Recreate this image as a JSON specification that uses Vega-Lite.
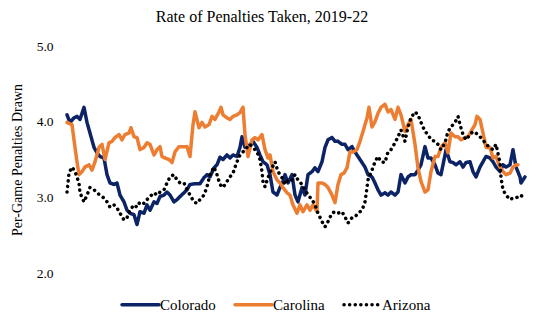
{
  "$schema": "https://vega.github.io/schema/vega-lite/v6.json",
  "autosize": {"type": "none"},
  "width": 460,
  "height": 227,
  "padding": {"left": 66, "top": 46, "right": 14, "bottom": 51},
  "background": "white",
  "config": {
    "view": {"stroke": null},
    "font": "Liberation Serif",
    "axis": {"labelFont": "Liberation Serif", "titleFont": "Liberation Serif"},
    "legend": {"labelFont": "Liberation Serif"},
    "title": {"font": "Liberation Serif"}
  },
  "title": {
    "text": "Rate of Penalties Taken, 2019-22",
    "font": "Liberation Serif",
    "fontSize": 16,
    "fontWeight": "normal",
    "color": "#000000",
    "anchor": "middle",
    "dx": -34,
    "offset": 14
  },
  "data": {
    "values": [
      {"team":"Colorado","game":1,"rate":4.09},{"team":"Colorado","game":4,"rate":3.99},{"team":"Colorado","game":8,"rate":4.05},{"team":"Colorado","game":11,"rate":4.07},{"team":"Colorado","game":14,"rate":4.03},{"team":"Colorado","game":18,"rate":4.19},{"team":"Colorado","game":21,"rate":3.99},{"team":"Colorado","game":24,"rate":3.85},{"team":"Colorado","game":28,"rate":3.66},{"team":"Colorado","game":31,"rate":3.59},{"team":"Colorado","game":34,"rate":3.54},{"team":"Colorado","game":38,"rate":3.52},{"team":"Colorado","game":41,"rate":3.30},{"team":"Colorado","game":44,"rate":3.19},{"team":"Colorado","game":48,"rate":3.17},{"team":"Colorado","game":51,"rate":3.19},{"team":"Colorado","game":54,"rate":3.03},{"team":"Colorado","game":58,"rate":2.94},{"team":"Colorado","game":61,"rate":2.83},{"team":"Colorado","game":64,"rate":2.79},{"team":"Colorado","game":68,"rate":2.77},{"team":"Colorado","game":71,"rate":2.64},{"team":"Colorado","game":74,"rate":2.81},{"team":"Colorado","game":78,"rate":2.79},{"team":"Colorado","game":81,"rate":2.90},{"team":"Colorado","game":84,"rate":2.83},{"team":"Colorado","game":88,"rate":2.94},{"team":"Colorado","game":91,"rate":2.92},{"team":"Colorado","game":94,"rate":3.01},{"team":"Colorado","game":98,"rate":3.03},{"team":"Colorado","game":101,"rate":3.07},{"team":"Colorado","game":104,"rate":3.03},{"team":"Colorado","game":108,"rate":2.94},{"team":"Colorado","game":111,"rate":2.97},{"team":"Colorado","game":114,"rate":3.01},{"team":"Colorado","game":118,"rate":3.06},{"team":"Colorado","game":121,"rate":3.10},{"team":"Colorado","game":124,"rate":3.17},{"team":"Colorado","game":129,"rate":3.18},{"team":"Colorado","game":134,"rate":3.18},{"team":"Colorado","game":138,"rate":3.26},{"team":"Colorado","game":141,"rate":3.30},{"team":"Colorado","game":144,"rate":3.27},{"team":"Colorado","game":148,"rate":3.39},{"team":"Colorado","game":151,"rate":3.43},{"team":"Colorado","game":154,"rate":3.53},{"team":"Colorado","game":157,"rate":3.50},{"team":"Colorado","game":161,"rate":3.56},{"team":"Colorado","game":164,"rate":3.52},{"team":"Colorado","game":167,"rate":3.56},{"team":"Colorado","game":171,"rate":3.54},{"team":"Colorado","game":174,"rate":3.66},{"team":"Colorado","game":176,"rate":3.80},{"team":"Colorado","game":179,"rate":3.66},{"team":"Colorado","game":182,"rate":3.67},{"team":"Colorado","game":187,"rate":3.74},{"team":"Colorado","game":191,"rate":3.66},{"team":"Colorado","game":194,"rate":3.56},{"team":"Colorado","game":197,"rate":3.47},{"team":"Colorado","game":201,"rate":3.43},{"team":"Colorado","game":204,"rate":3.30},{"team":"Colorado","game":207,"rate":3.07},{"team":"Colorado","game":211,"rate":3.03},{"team":"Colorado","game":214,"rate":3.13},{"team":"Colorado","game":217,"rate":3.21},{"team":"Colorado","game":219,"rate":3.30},{"team":"Colorado","game":222,"rate":3.19},{"team":"Colorado","game":226,"rate":3.30},{"team":"Colorado","game":229,"rate":3.03},{"team":"Colorado","game":232,"rate":2.94},{"team":"Colorado","game":236,"rate":3.13},{"team":"Colorado","game":239,"rate":3.03},{"team":"Colorado","game":242,"rate":3.30},{"team":"Colorado","game":246,"rate":3.34},{"team":"Colorado","game":249,"rate":3.39},{"team":"Colorado","game":252,"rate":3.34},{"team":"Colorado","game":256,"rate":3.47},{"team":"Colorado","game":259,"rate":3.66},{"team":"Colorado","game":262,"rate":3.76},{"team":"Colorado","game":266,"rate":3.79},{"team":"Colorado","game":269,"rate":3.74},{"team":"Colorado","game":272,"rate":3.74},{"team":"Colorado","game":276,"rate":3.70},{"team":"Colorado","game":279,"rate":3.70},{"team":"Colorado","game":282,"rate":3.63},{"team":"Colorado","game":286,"rate":3.67},{"team":"Colorado","game":289,"rate":3.60},{"team":"Colorado","game":292,"rate":3.54},{"team":"Colorado","game":296,"rate":3.46},{"team":"Colorado","game":299,"rate":3.40},{"team":"Colorado","game":302,"rate":3.30},{"team":"Colorado","game":306,"rate":3.27},{"team":"Colorado","game":309,"rate":3.19},{"team":"Colorado","game":312,"rate":3.10},{"team":"Colorado","game":315,"rate":3.03},{"team":"Colorado","game":319,"rate":3.06},{"team":"Colorado","game":322,"rate":3.03},{"team":"Colorado","game":325,"rate":3.07},{"team":"Colorado","game":329,"rate":3.03},{"team":"Colorado","game":332,"rate":3.07},{"team":"Colorado","game":335,"rate":3.30},{"team":"Colorado","game":339,"rate":3.19},{"team":"Colorado","game":342,"rate":3.27},{"team":"Colorado","game":345,"rate":3.30},{"team":"Colorado","game":349,"rate":3.30},{"team":"Colorado","game":352,"rate":3.36},{"team":"Colorado","game":355,"rate":3.43},{"team":"Colorado","game":359,"rate":3.67},{"team":"Colorado","game":362,"rate":3.52},{"team":"Colorado","game":365,"rate":3.52},{"team":"Colorado","game":369,"rate":3.43},{"team":"Colorado","game":372,"rate":3.32},{"team":"Colorado","game":375,"rate":3.30},{"team":"Colorado","game":379,"rate":3.56},{"team":"Colorado","game":380,"rate":3.63},{"team":"Colorado","game":384,"rate":3.47},{"team":"Colorado","game":387,"rate":3.46},{"team":"Colorado","game":390,"rate":3.43},{"team":"Colorado","game":394,"rate":3.47},{"team":"Colorado","game":397,"rate":3.40},{"team":"Colorado","game":400,"rate":3.46},{"team":"Colorado","game":404,"rate":3.47},{"team":"Colorado","game":407,"rate":3.34},{"team":"Colorado","game":410,"rate":3.27},{"team":"Colorado","game":414,"rate":3.40},{"team":"Colorado","game":417,"rate":3.47},{"team":"Colorado","game":420,"rate":3.54},{"team":"Colorado","game":424,"rate":3.52},{"team":"Colorado","game":427,"rate":3.47},{"team":"Colorado","game":430,"rate":3.40},{"team":"Colorado","game":434,"rate":3.34},{"team":"Colorado","game":437,"rate":3.43},{"team":"Colorado","game":440,"rate":3.40},{"team":"Colorado","game":444,"rate":3.43},{"team":"Colorado","game":447,"rate":3.63},{"team":"Colorado","game":450,"rate":3.40},{"team":"Colorado","game":454,"rate":3.27},{"team":"Colorado","game":455,"rate":3.19},{"team":"Colorado","game":459,"rate":3.27},

      {"team":"Carolina","game":1,"rate":3.99},{"team":"Carolina","game":6,"rate":3.96},{"team":"Carolina","game":9,"rate":3.66},{"team":"Carolina","game":11,"rate":3.47},{"team":"Carolina","game":13,"rate":3.30},{"team":"Carolina","game":16,"rate":3.34},{"team":"Carolina","game":19,"rate":3.40},{"team":"Carolina","game":23,"rate":3.43},{"team":"Carolina","game":26,"rate":3.36},{"team":"Carolina","game":29,"rate":3.47},{"team":"Carolina","game":33,"rate":3.66},{"team":"Carolina","game":36,"rate":3.70},{"team":"Carolina","game":39,"rate":3.50},{"team":"Carolina","game":43,"rate":3.72},{"team":"Carolina","game":46,"rate":3.74},{"team":"Carolina","game":49,"rate":3.79},{"team":"Carolina","game":53,"rate":3.83},{"team":"Carolina","game":56,"rate":3.76},{"team":"Carolina","game":59,"rate":3.83},{"team":"Carolina","game":63,"rate":3.85},{"team":"Carolina","game":65,"rate":3.92},{"team":"Carolina","game":68,"rate":3.80},{"team":"Carolina","game":71,"rate":3.79},{"team":"Carolina","game":74,"rate":3.63},{"team":"Carolina","game":78,"rate":3.66},{"team":"Carolina","game":81,"rate":3.72},{"team":"Carolina","game":84,"rate":3.70},{"team":"Carolina","game":88,"rate":3.56},{"team":"Carolina","game":91,"rate":3.63},{"team":"Carolina","game":94,"rate":3.67},{"team":"Carolina","game":96,"rate":3.54},{"team":"Carolina","game":99,"rate":3.52},{"team":"Carolina","game":103,"rate":3.50},{"team":"Carolina","game":106,"rate":3.46},{"team":"Carolina","game":109,"rate":3.60},{"team":"Carolina","game":113,"rate":3.67},{"team":"Carolina","game":118,"rate":3.67},{"team":"Carolina","game":121,"rate":3.67},{"team":"Carolina","game":124,"rate":3.54},{"team":"Carolina","game":127,"rate":3.96},{"team":"Carolina","game":129,"rate":4.13},{"team":"Carolina","game":133,"rate":3.92},{"team":"Carolina","game":136,"rate":3.99},{"team":"Carolina","game":139,"rate":3.93},{"team":"Carolina","game":143,"rate":3.96},{"team":"Carolina","game":146,"rate":4.07},{"team":"Carolina","game":149,"rate":4.03},{"team":"Carolina","game":153,"rate":4.13},{"team":"Carolina","game":155,"rate":4.19},{"team":"Carolina","game":157,"rate":4.09},{"team":"Carolina","game":161,"rate":4.05},{"team":"Carolina","game":164,"rate":4.03},{"team":"Carolina","game":167,"rate":4.07},{"team":"Carolina","game":171,"rate":4.09},{"team":"Carolina","game":174,"rate":4.12},{"team":"Carolina","game":177,"rate":4.19},{"team":"Carolina","game":179,"rate":3.83},{"team":"Carolina","game":182,"rate":3.54},{"team":"Carolina","game":186,"rate":3.76},{"team":"Carolina","game":189,"rate":3.79},{"team":"Carolina","game":192,"rate":3.76},{"team":"Carolina","game":196,"rate":3.83},{"team":"Carolina","game":199,"rate":3.63},{"team":"Carolina","game":202,"rate":3.52},{"team":"Carolina","game":204,"rate":3.56},{"team":"Carolina","game":207,"rate":3.34},{"team":"Carolina","game":211,"rate":3.23},{"team":"Carolina","game":214,"rate":3.19},{"team":"Carolina","game":217,"rate":3.13},{"team":"Carolina","game":221,"rate":3.06},{"team":"Carolina","game":224,"rate":3.03},{"team":"Carolina","game":227,"rate":2.90},{"team":"Carolina","game":231,"rate":2.79},{"team":"Carolina","game":234,"rate":2.90},{"team":"Carolina","game":237,"rate":2.81},{"team":"Carolina","game":241,"rate":2.90},{"team":"Carolina","game":244,"rate":2.83},{"team":"Carolina","game":247,"rate":2.90},{"team":"Carolina","game":251,"rate":2.81},{"team":"Carolina","game":252,"rate":3.19},{"team":"Carolina","game":256,"rate":3.19},{"team":"Carolina","game":259,"rate":3.17},{"team":"Carolina","game":262,"rate":3.13},{"team":"Carolina","game":266,"rate":3.03},{"team":"Carolina","game":269,"rate":2.93},{"team":"Carolina","game":272,"rate":3.17},{"team":"Carolina","game":275,"rate":3.30},{"team":"Carolina","game":278,"rate":3.32},{"team":"Carolina","game":281,"rate":3.39},{"team":"Carolina","game":284,"rate":3.60},{"team":"Carolina","game":287,"rate":3.60},{"team":"Carolina","game":291,"rate":3.63},{"team":"Carolina","game":294,"rate":3.74},{"team":"Carolina","game":297,"rate":3.87},{"team":"Carolina","game":301,"rate":4.05},{"team":"Carolina","game":303,"rate":4.19},{"team":"Carolina","game":306,"rate":3.93},{"team":"Carolina","game":309,"rate":4.00},{"team":"Carolina","game":312,"rate":4.11},{"team":"Carolina","game":315,"rate":4.19},{"team":"Carolina","game":319,"rate":4.23},{"team":"Carolina","game":322,"rate":4.13},{"team":"Carolina","game":325,"rate":4.16},{"team":"Carolina","game":329,"rate":4.03},{"team":"Carolina","game":332,"rate":4.19},{"team":"Carolina","game":335,"rate":4.09},{"team":"Carolina","game":339,"rate":3.87},{"team":"Carolina","game":342,"rate":3.96},{"team":"Carolina","game":345,"rate":4.03},{"team":"Carolina","game":349,"rate":3.70},{"team":"Carolina","game":352,"rate":3.39},{"team":"Carolina","game":355,"rate":3.21},{"team":"Carolina","game":359,"rate":3.07},{"team":"Carolina","game":362,"rate":3.10},{"team":"Carolina","game":365,"rate":3.34},{"team":"Carolina","game":369,"rate":3.54},{"team":"Carolina","game":372,"rate":3.54},{"team":"Carolina","game":375,"rate":3.66},{"team":"Carolina","game":379,"rate":3.72},{"team":"Carolina","game":382,"rate":3.59},{"team":"Carolina","game":385,"rate":3.85},{"team":"Carolina","game":389,"rate":3.80},{"team":"Carolina","game":392,"rate":3.80},{"team":"Carolina","game":395,"rate":3.76},{"team":"Carolina","game":399,"rate":3.79},{"team":"Carolina","game":402,"rate":3.80},{"team":"Carolina","game":405,"rate":3.87},{"team":"Carolina","game":409,"rate":3.96},{"team":"Carolina","game":411,"rate":4.07},{"team":"Carolina","game":414,"rate":4.03},{"team":"Carolina","game":417,"rate":3.85},{"team":"Carolina","game":420,"rate":3.66},{"team":"Carolina","game":424,"rate":3.66},{"team":"Carolina","game":427,"rate":3.52},{"team":"Carolina","game":430,"rate":3.54},{"team":"Carolina","game":434,"rate":3.40},{"team":"Carolina","game":437,"rate":3.34},{"team":"Carolina","game":440,"rate":3.30},{"team":"Carolina","game":444,"rate":3.32},{"team":"Carolina","game":447,"rate":3.40},{"team":"Carolina","game":450,"rate":3.43},{"team":"Carolina","game":452,"rate":3.43},

      {"team":"Arizona","game":1,"rate":3.07},{"team":"Arizona","game":2,"rate":3.19},{"team":"Arizona","game":3,"rate":3.32},{"team":"Arizona","game":6,"rate":3.40},{"team":"Arizona","game":9,"rate":3.34},{"team":"Arizona","game":13,"rate":3.19},{"team":"Arizona","game":14,"rate":3.06},{"team":"Arizona","game":18,"rate":2.94},{"team":"Arizona","game":21,"rate":3.03},{"team":"Arizona","game":24,"rate":3.13},{"team":"Arizona","game":28,"rate":3.10},{"team":"Arizona","game":31,"rate":3.06},{"team":"Arizona","game":34,"rate":3.03},{"team":"Arizona","game":38,"rate":2.99},{"team":"Arizona","game":41,"rate":2.94},{"team":"Arizona","game":44,"rate":2.87},{"team":"Arizona","game":48,"rate":2.90},{"team":"Arizona","game":51,"rate":2.86},{"team":"Arizona","game":54,"rate":2.79},{"team":"Arizona","game":58,"rate":2.70},{"team":"Arizona","game":61,"rate":2.73},{"team":"Arizona","game":64,"rate":2.83},{"team":"Arizona","game":68,"rate":2.90},{"team":"Arizona","game":71,"rate":2.87},{"team":"Arizona","game":74,"rate":2.94},{"team":"Arizona","game":78,"rate":2.92},{"team":"Arizona","game":81,"rate":2.97},{"team":"Arizona","game":84,"rate":3.01},{"team":"Arizona","game":88,"rate":3.06},{"team":"Arizona","game":91,"rate":3.03},{"team":"Arizona","game":94,"rate":3.07},{"team":"Arizona","game":98,"rate":3.10},{"team":"Arizona","game":101,"rate":3.19},{"team":"Arizona","game":104,"rate":3.27},{"team":"Arizona","game":108,"rate":3.30},{"team":"Arizona","game":111,"rate":3.23},{"team":"Arizona","game":114,"rate":3.19},{"team":"Arizona","game":118,"rate":3.19},{"team":"Arizona","game":121,"rate":3.10},{"team":"Arizona","game":124,"rate":3.03},{"team":"Arizona","game":128,"rate":2.94},{"team":"Arizona","game":131,"rate":2.92},{"team":"Arizona","game":134,"rate":2.97},{"team":"Arizona","game":138,"rate":3.03},{"team":"Arizona","game":141,"rate":3.14},{"team":"Arizona","game":144,"rate":3.30},{"team":"Arizona","game":148,"rate":3.40},{"team":"Arizona","game":151,"rate":3.30},{"team":"Arizona","game":154,"rate":3.17},{"team":"Arizona","game":157,"rate":3.13},{"team":"Arizona","game":161,"rate":3.21},{"team":"Arizona","game":164,"rate":3.27},{"team":"Arizona","game":167,"rate":3.32},{"team":"Arizona","game":169,"rate":3.40},{"team":"Arizona","game":171,"rate":3.47},{"team":"Arizona","game":174,"rate":3.56},{"team":"Arizona","game":177,"rate":3.60},{"team":"Arizona","game":181,"rate":3.66},{"team":"Arizona","game":184,"rate":3.70},{"team":"Arizona","game":187,"rate":3.66},{"team":"Arizona","game":191,"rate":3.60},{"team":"Arizona","game":194,"rate":3.50},{"team":"Arizona","game":196,"rate":3.34},{"team":"Arizona","game":197,"rate":3.21},{"team":"Arizona","game":199,"rate":3.14},{"team":"Arizona","game":202,"rate":3.26},{"team":"Arizona","game":206,"rate":3.39},{"team":"Arizona","game":209,"rate":3.47},{"team":"Arizona","game":212,"rate":3.34},{"team":"Arizona","game":216,"rate":3.26},{"team":"Arizona","game":219,"rate":3.17},{"team":"Arizona","game":222,"rate":3.23},{"team":"Arizona","game":226,"rate":3.23},{"team":"Arizona","game":229,"rate":3.30},{"team":"Arizona","game":232,"rate":3.23},{"team":"Arizona","game":236,"rate":3.17},{"team":"Arizona","game":239,"rate":3.10},{"team":"Arizona","game":242,"rate":3.03},{"team":"Arizona","game":246,"rate":2.97},{"team":"Arizona","game":249,"rate":2.90},{"team":"Arizona","game":252,"rate":2.79},{"team":"Arizona","game":256,"rate":2.68},{"team":"Arizona","game":259,"rate":2.61},{"team":"Arizona","game":262,"rate":2.68},{"team":"Arizona","game":266,"rate":2.79},{"team":"Arizona","game":269,"rate":2.81},{"team":"Arizona","game":272,"rate":2.79},{"team":"Arizona","game":276,"rate":2.81},{"team":"Arizona","game":279,"rate":2.74},{"team":"Arizona","game":282,"rate":2.66},{"team":"Arizona","game":286,"rate":2.73},{"team":"Arizona","game":289,"rate":2.74},{"team":"Arizona","game":292,"rate":2.79},{"team":"Arizona","game":296,"rate":2.83},{"team":"Arizona","game":299,"rate":2.94},{"team":"Arizona","game":301,"rate":3.13},{"team":"Arizona","game":302,"rate":3.23},{"team":"Arizona","game":306,"rate":3.36},{"team":"Arizona","game":309,"rate":3.47},{"team":"Arizona","game":312,"rate":3.54},{"team":"Arizona","game":315,"rate":3.47},{"team":"Arizona","game":319,"rate":3.46},{"team":"Arizona","game":322,"rate":3.60},{"team":"Arizona","game":325,"rate":3.63},{"team":"Arizona","game":329,"rate":3.72},{"team":"Arizona","game":332,"rate":3.80},{"team":"Arizona","game":335,"rate":3.89},{"team":"Arizona","game":339,"rate":3.74},{"team":"Arizona","game":342,"rate":3.93},{"team":"Arizona","game":345,"rate":4.05},{"team":"Arizona","game":349,"rate":4.13},{"team":"Arizona","game":352,"rate":4.09},{"team":"Arizona","game":355,"rate":3.99},{"team":"Arizona","game":359,"rate":3.87},{"team":"Arizona","game":362,"rate":3.83},{"team":"Arizona","game":365,"rate":3.76},{"team":"Arizona","game":369,"rate":3.74},{"team":"Arizona","game":372,"rate":3.70},{"team":"Arizona","game":375,"rate":3.63},{"team":"Arizona","game":379,"rate":3.72},{"team":"Arizona","game":382,"rate":3.87},{"team":"Arizona","game":385,"rate":3.93},{"team":"Arizona","game":389,"rate":3.99},{"team":"Arizona","game":392,"rate":4.07},{"team":"Arizona","game":394,"rate":3.96},{"team":"Arizona","game":397,"rate":3.83},{"team":"Arizona","game":400,"rate":3.76},{"team":"Arizona","game":404,"rate":3.83},{"team":"Arizona","game":407,"rate":3.87},{"team":"Arizona","game":410,"rate":3.85},{"team":"Arizona","game":414,"rate":3.80},{"team":"Arizona","game":417,"rate":3.76},{"team":"Arizona","game":420,"rate":3.70},{"team":"Arizona","game":424,"rate":3.66},{"team":"Arizona","game":427,"rate":3.63},{"team":"Arizona","game":430,"rate":3.70},{"team":"Arizona","game":434,"rate":3.46},{"team":"Arizona","game":435,"rate":3.26},{"team":"Arizona","game":437,"rate":3.10},{"team":"Arizona","game":440,"rate":3.03},{"team":"Arizona","game":444,"rate":2.97},{"team":"Arizona","game":447,"rate":2.99},{"team":"Arizona","game":450,"rate":2.99},{"team":"Arizona","game":454,"rate":3.03},{"team":"Arizona","game":457,"rate":3.01}
    ]
  },
  "mark": {"type": "line", "strokeWidth": 3.5, "strokeCap": "round", "strokeJoin": "round"},
  "encoding": {
    "x": {
      "field": "game",
      "type": "quantitative",
      "scale": {"domain": [0, 460], "nice": false, "zero": false},
      "axis": null
    },
    "y": {
      "field": "rate",
      "type": "quantitative",
      "scale": {"domain": [2, 5], "nice": false, "zero": false},
      "axis": {
        "title": "Per-Game Penalties Drawn",
        "titleFont": "Liberation Serif",
        "titleFontSize": 14,
        "titleFontWeight": "normal",
        "titleColor": "#000000",
        "titlePadding": 12,
        "values": [2, 3, 4, 5],
        "format": ".1f",
        "labelFont": "Liberation Serif",
        "labelFontSize": 13.5,
        "labelColor": "#000000",
        "labelPadding": 13,
        "domain": false,
        "ticks": false,
        "grid": false
      }
    },
    "color": {
      "field": "team",
      "type": "nominal",
      "sort": ["Colorado", "Carolina", "Arizona"],
      "scale": {"domain": ["Colorado", "Carolina", "Arizona"], "range": ["#0c2365", "#ED7D31", "#000000"]},
      "legend": {
        "title": null,
        "orient": "none",
        "legendX": 54,
        "legendY": 238,
        "direction": "horizontal",
        "symbolType": "stroke",
        "symbolSize": 1369,
        "symbolStrokeWidth": 3.5,
        "labelFont": "Liberation Serif",
        "labelFontSize": 15,
        "labelColor": "#000000",
        "labelOffset": -1,
        "columnPadding": 12,
        "encode": {"symbols": {"update": {"strokeCap": {"value": "round"}}}}
      }
    },
    "strokeDash": {
      "field": "team",
      "type": "nominal",
      "sort": ["Colorado", "Carolina", "Arizona"],
      "scale": {"domain": ["Colorado", "Carolina", "Arizona"], "range": [[1, 0], [1, 0], [0.1, 5.5]]}
    }
  }
}
